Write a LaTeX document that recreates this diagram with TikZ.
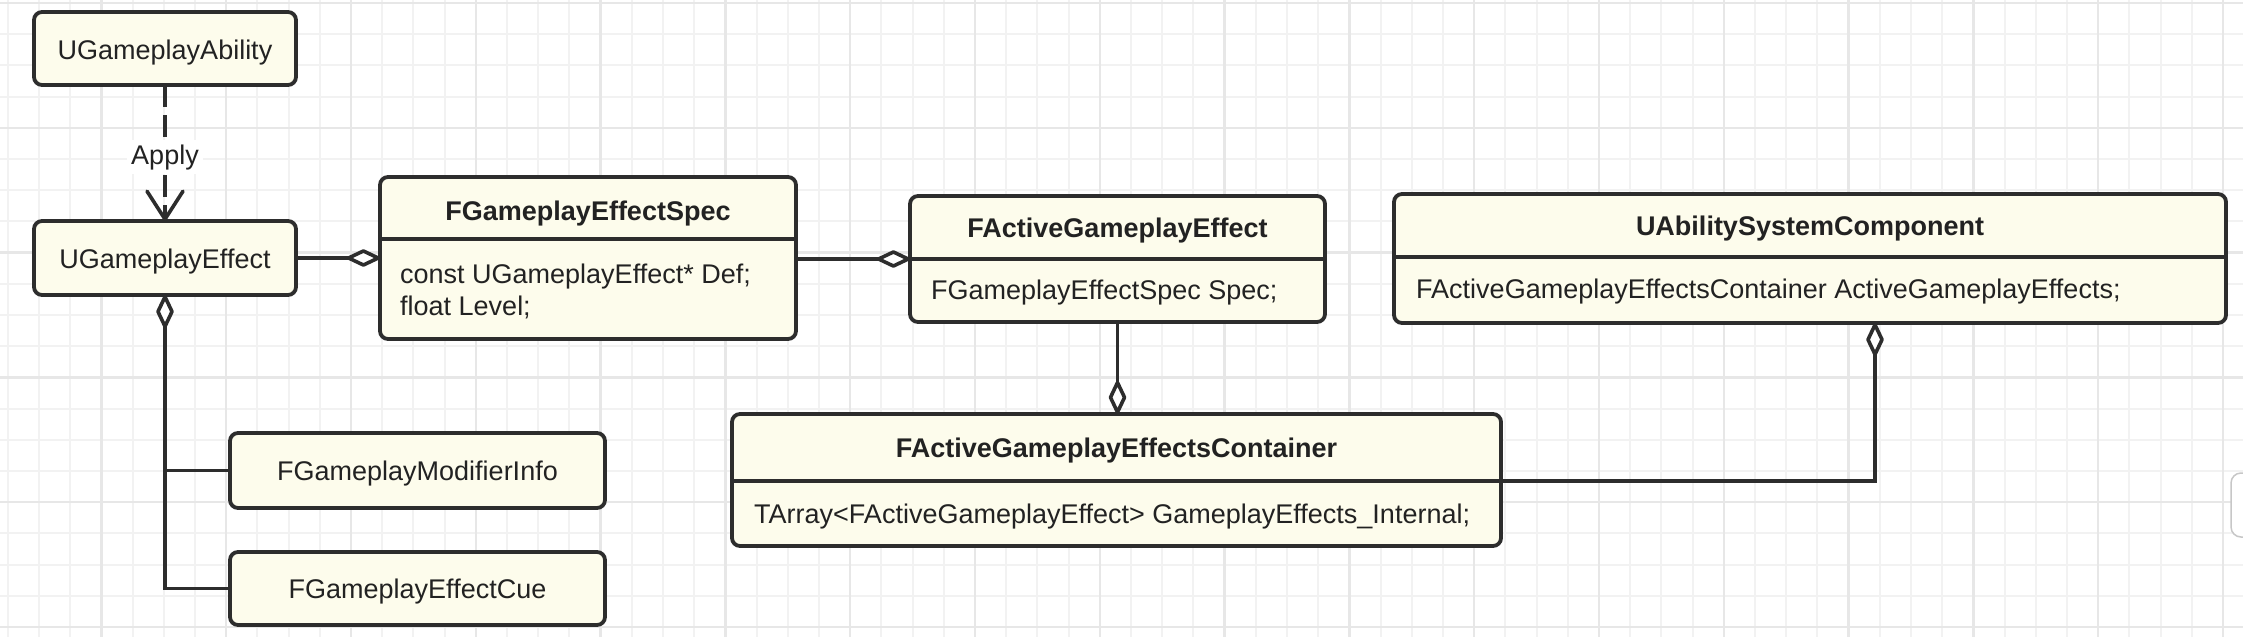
\documentclass[tikz,border=0pt]{standalone}
\usepackage{fontspec}
\setmainfont{Liberation Sans}
\usetikzlibrary{arrows.meta}
\definecolor{boxfill}{RGB}{253,252,236}
\definecolor{boxline}{RGB}{45,45,45}
\definecolor{txt}{RGB}{34,34,34}
\definecolor{gridminor}{RGB}{242,242,242}
\definecolor{gridmajor}{RGB}{231,231,231}
\tikzset{
 cls/.style={draw=boxline, fill=boxfill, line width=3.8pt, rounded corners=8pt, inner sep=0pt, outer sep=0pt},
 txtn/.style={font=\fontsize{27}{33}\selectfont, text=txt, inner sep=0pt, anchor=base},
 ttl/.style={txtn, font=\fontsize{27}{33}\selectfont\bfseries},
 attr/.style={txtn, anchor=base west},
 conn/.style={draw=boxline, line width=3.6pt},
 aggr/.style={conn, -{Diamond[length=38pt,width=18pt,fill=white,round]}},
 raggr/.style={conn, {Diamond[length=38pt,width=18pt,fill=white,round]}-},
 dep/.style={conn, dash pattern=on 22pt off 8pt, -{Straight Barb[length=28pt,width=36pt,round]}},
 divider/.style={draw=boxline, line width=3.8pt},
}
\begin{document}
\begin{tikzpicture}[x=1pt,y=-1pt]
\useasboundingbox (0,0) rectangle (2243,637);
% background grid
\begin{scope}
\clip (0,0) rectangle (2243,637);
\fill[white] (0,0) rectangle (2243,637);
\foreach \i in {0,...,72} {
  \pgfmathsetmacro\xx{7.8+\i*31.2}
  \draw[gridminor, line width=2pt] (\xx,0) -- (\xx,637);
}
\foreach \j in {0,...,21} {
  \pgfmathsetmacro\yy{3+\j*31.2}
  \draw[gridminor, line width=2pt] (0,\yy) -- (2243,\yy);
}
\foreach \i in {0,...,18} {
  \pgfmathsetmacro\xx{101.4+(\i-1)*124.8}
  \draw[gridmajor, line width=2.5pt] (\xx,0) -- (\xx,637);
}
\foreach \j in {0,...,5} {
  \pgfmathsetmacro\yy{3+\j*124.8}
  \draw[gridmajor, line width=2.5pt] (0,\yy) -- (2243,\yy);
}
\draw[black!22, line width=1.5pt, fill=white, rounded corners=10pt] (2231,473) rectangle (2290,537);
\end{scope}

% class boxes
\node[cls, minimum width=262pt, minimum height=73pt] (uga) at (165,48.5) {};
\node[txtn] (ugaT) at (165,59) {UGameplayAbility};

\node[cls, minimum width=262pt, minimum height=74pt] (uge) at (165,258) {};
\node[txtn] (ugeT) at (165,268) {UGameplayEffect};

\node[cls, minimum width=416pt, minimum height=162pt] (spec) at (588,258) {};
\draw[divider] ([yshift=-62pt]spec.north west) -- ([yshift=-62pt]spec.north east);
\node[ttl] (specT) at (588,220) {FGameplayEffectSpec};
\node[attr] (specA1) at (400,283) {const UGameplayEffect* Def;};
\node[attr] (specA2) at (400,315) {float Level;};

\node[cls, minimum width=415pt, minimum height=126pt] (active) at (1117.5,259) {};
\draw[divider] ([yshift=-63pt]active.north west) -- ([yshift=-63pt]active.north east);
\node[ttl] (activeT) at (1117.5,237) {FActiveGameplayEffect};
\node[attr] (activeA) at (931,299) {FGameplayEffectSpec Spec;};

\node[cls, minimum width=832pt, minimum height=129pt] (uasc) at (1810,258.5) {};
\draw[divider] ([yshift=-63pt]uasc.north west) -- ([yshift=-63pt]uasc.north east);
\node[ttl] (uascT) at (1810,235) {UAbilitySystemComponent};
\node[attr] (uascA1) at (1416,298) {FActiveGameplayEffectsContainer ActiveGameplayEffects;};

\node[cls, minimum width=769pt, minimum height=132pt] (container) at (1116.5,480) {};
\draw[divider] ([yshift=-67pt]container.north west) -- ([yshift=-67pt]container.north east);
\node[ttl] (containerT) at (1116.5,457) {FActiveGameplayEffectsContainer};
\node[attr] (containerA) at (754,523) {TArray<FActiveGameplayEffect> GameplayEffects\_Internal;};

\node[cls, minimum width=375pt, minimum height=75pt] (modinfo) at (417.5,470.5) {};
\node[txtn] (modinfoT) at (417.5,480) {FGameplayModifierInfo};

\node[cls, minimum width=375pt, minimum height=73pt] (cue) at (417.5,588.5) {};
\node[txtn] (cueT) at (417.5,598) {FGameplayEffectCue};

% connectors
\draw[dep] (uga.south) -- node[txtn, anchor=center, fill=white, inner sep=4pt, pos=0.53] (applyL) {Apply} (uge.north);
\draw[aggr] (uge.east) -- (uge.east -| spec.west);
\draw[aggr] (spec.east |- active.west) -- (active.west);
\draw[raggr] (uge.south) |- (cue.west);
\draw[conn] (uge.south |- modinfo.west) -- (modinfo.west);
\draw[aggr] (active.south) -- (active.south |- container.north);
\coordinate (cdivR) at (1501,481);
\coordinate (uascP) at (1875,323);
\draw[raggr] (uascP) |- (cdivR);
\end{tikzpicture}
\end{document}
